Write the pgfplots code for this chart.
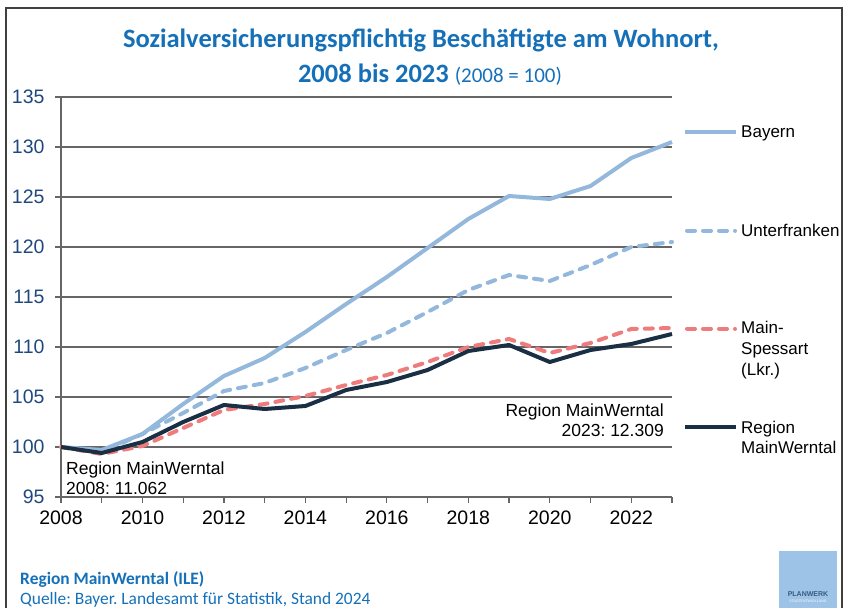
\documentclass[border=0pt]{standalone}
\usepackage{pgfplots}
\pgfplotsset{compat=1.18}
\usepackage{fontspec}
\setmainfont{Liberation Sans}
\newfontfamily\carlito{Carlito}
\definecolor{titleblue}{HTML}{1570B8}
\definecolor{tickblue}{HTML}{1F497D}
\definecolor{lblue}{HTML}{93B8DC}
\definecolor{lred}{HTML}{EE7C7C}
\definecolor{dnavy}{HTML}{1A2E44}
\definecolor{logoblue}{HTML}{9DC3E6}
\definecolor{logotext}{HTML}{3A5A80}
\frenchspacing
\begin{document}
\begin{tikzpicture}
\path[use as bounding box] (0pt,0pt) rectangle (845pt,608pt);
\draw[line width=1.5pt, black!75] (6pt,0pt) -- (6pt,600pt) -- (842pt,600pt) -- (842pt,0pt);
\begin{axis}[
  at={(61pt,111pt)}, anchor=south west,
  scale only axis, width=611pt, height=400pt,
  xmin=2008, xmax=2023, ymin=95, ymax=135,
  axis x line=bottom, axis y line=left,
  axis line style={-, draw=black!60, line width=1.3pt},
  xtick={2008,2010,...,2022}, minor xtick={2009,2011,...,2023},
  ytick={95,100,...,135},
  tick align=outside, major tick length=6pt, minor tick length=6pt,
  tick style={draw=black!60, line width=1.2pt},
  ymajorgrids, grid style={draw=black!60, line width=1.3pt},
  /pgf/number format/assume math mode=true,
  /pgf/number format/1000 sep={},
  xticklabel style={font=\fontsize{19.5}{22}\selectfont, text=black, yshift=-4pt},
  yticklabel style={font=\fontsize{19.5}{22}\selectfont, text=tickblue, xshift=-7pt},
  clip=false,
]
\addplot[lblue, line width=4pt, line join=round] coordinates {
(2008,100) (2009,99.7) (2010,101.3) (2011,104.3) (2012,107.1) (2013,108.9) (2014,111.5) (2015,114.3)
(2016,117.0) (2017,119.9) (2018,122.8) (2019,125.1) (2020,124.8) (2021,126.1) (2022,128.9) (2023,130.5)};
\addplot[lblue, line width=4pt, line cap=round, dash pattern=on 8pt off 8pt] coordinates {
(2008,100) (2009,99.5) (2010,101.3) (2011,103.4) (2012,105.6) (2013,106.4) (2014,107.9) (2015,109.7)
(2016,111.4) (2017,113.5) (2018,115.7) (2019,117.2) (2020,116.6) (2021,118.2) (2022,120.0) (2023,120.5)};
\addplot[lred, line width=4pt, line cap=round, dash pattern=on 8pt off 8pt] coordinates {
(2008,100) (2009,99.3) (2010,100.1) (2011,101.9) (2012,103.7) (2013,104.3) (2014,105.1) (2015,106.2)
(2016,107.2) (2017,108.5) (2018,110.0) (2019,110.8) (2020,109.4) (2021,110.4) (2022,111.8) (2023,111.9)};
\addplot[dnavy, line width=4pt, line join=round] coordinates {
(2008,100) (2009,99.4) (2010,100.5) (2011,102.5) (2012,104.2) (2013,103.8) (2014,104.1) (2015,105.7)
(2016,106.5) (2017,107.7) (2018,109.6) (2019,110.2) (2020,108.5) (2021,109.7) (2022,110.3) (2023,111.3)};
\end{axis}
% title
\node[anchor=base, font=\carlito\bfseries\fontsize{26.5}{30}\selectfont, text=titleblue] at (421pt,560pt) {Sozialversicherungspflichtig Besch\"aftigte am Wohnort,};
\node[anchor=base, font=\carlito\fontsize{26.5}{30}\selectfont, text=titleblue] at (430pt,525pt) {\textbf{2008 bis 2023} {\fontsize{21}{24}\selectfont(2008 = 100)}};
% annotations
\begin{scope}[font=\fontsize{17.5}{20}\selectfont]
\node[anchor=base west, inner sep=0pt] at (66pt,134pt) {Region MainWerntal};
\node[anchor=base west, inner sep=0pt] at (66pt,114pt) {2008: 11.062};
\node[anchor=base east, inner sep=0pt] at (664pt,192pt) {Region MainWerntal};
\node[anchor=base east, inner sep=0pt] at (664pt,172pt) {2023: 12.309};
\end{scope}
% legend
\begin{scope}[font=\fontsize{17}{20}\selectfont]
\draw[lblue, line width=4pt] (685pt,475.7pt) -- (736pt,475.7pt);
\draw[lblue, line width=4pt, line cap=round, dash pattern=on 8pt off 8pt] (687pt,377.3pt) -- (735pt,377.3pt);
\draw[lred, line width=4pt, line cap=round, dash pattern=on 8pt off 8pt] (687pt,279.3pt) -- (735pt,279.3pt);
\draw[dnavy, line width=4pt] (685pt,180.7pt) -- (736pt,180.7pt);
\node[anchor=base west, inner sep=0pt] at (741pt,470pt) {Bayern};
\node[anchor=base west, inner sep=0pt] at (741pt,371pt) {Unterfranken};
\node[anchor=base west, inner sep=0pt] at (741pt,274pt) {Main-};
\node[anchor=base west, inner sep=0pt] at (741pt,253pt) {Spessart};
\node[anchor=base west, inner sep=0pt] at (741pt,233pt) {(Lkr.)};
\node[anchor=base west, inner sep=0pt] at (741pt,175pt) {Region};
\node[anchor=base west, inner sep=0pt] at (741pt,155pt) {MainWerntal};
\end{scope}
% footer
\node[anchor=base west, inner sep=0pt, font=\carlito\bfseries\fontsize{17.4}{20}\selectfont, text=titleblue] at (20pt,24pt) {Region MainWerntal (ILE)};
\node[anchor=base west, inner sep=0pt, font=\carlito\fontsize{17.4}{20}\selectfont, text=titleblue] at (20pt,4pt) {Quelle: Bayer. Landesamt f\"ur Statistik, Stand 2024};
% logo
\fill[logoblue] (779pt,0pt) rectangle (837pt,57pt);
\node[font=\bfseries\fontsize{7}{8}\selectfont, text=logotext, inner sep=0pt] at (808pt,14pt) {PLANWERK};
\node[font=\fontsize{3.5}{4}\selectfont, text=white, inner sep=0pt] at (808pt,7pt) {STADTENTWICKLUNG};
\end{tikzpicture}
\end{document}
